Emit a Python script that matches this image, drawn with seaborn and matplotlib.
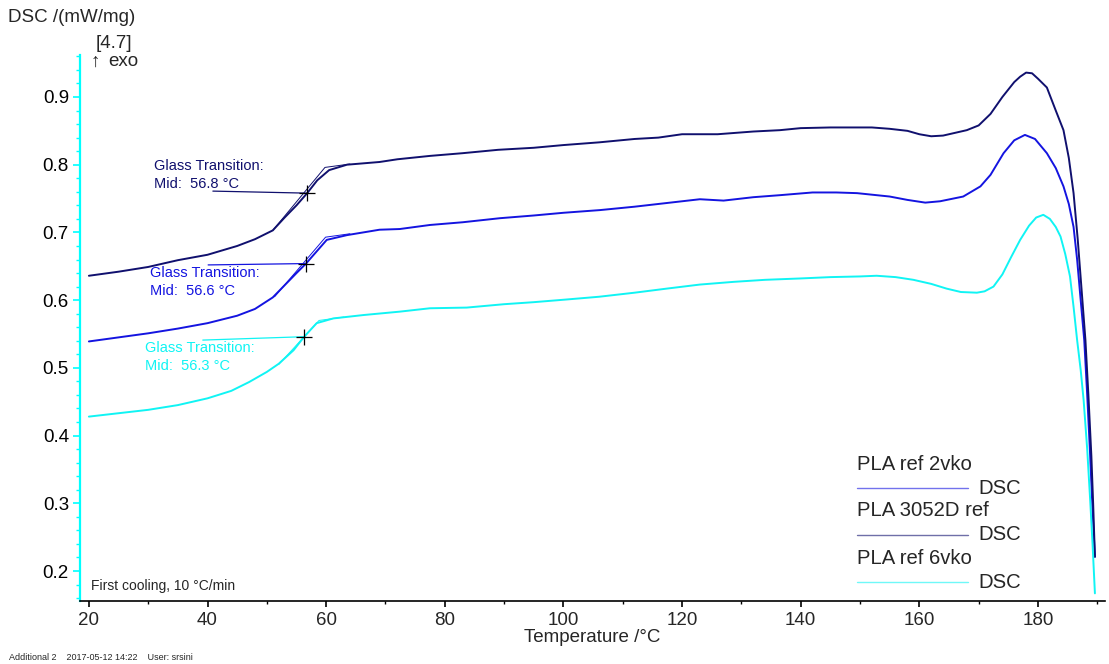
import numpy as np
import pandas as pd
import matplotlib
matplotlib.use("Agg")
import matplotlib.pyplot as plt
import seaborn as sns
from matplotlib.ticker import MultipleLocator

# ---- measured DSC curves (first cooling, 10 °C/min) ----
t_3052d = [20, 25, 30, 35, 40, 45, 48, 51, 53, 55, 56.8, 58.5, 60.5, 63.5, 69, 72, 77.5,
           83, 89, 95, 100, 106, 112, 116, 120, 126, 132, 136.5, 140, 145, 149, 152, 155,
           158, 160, 162, 164, 166, 168, 170, 172, 174, 176, 177, 178, 179, 180, 181.5,
           183, 184.3, 185.2, 186, 186.7, 187.4, 188, 188.5, 189, 189.3, 189.6]
dsc_3052d = [0.636, 0.642, 0.649, 0.659, 0.667, 0.680, 0.690, 0.703, 0.722, 0.740, 0.758,
             0.777, 0.792, 0.800, 0.804, 0.808, 0.813, 0.817, 0.822, 0.825, 0.829, 0.833,
             0.838, 0.840, 0.845, 0.845, 0.849, 0.851, 0.854, 0.855, 0.855, 0.855, 0.853,
             0.850, 0.845, 0.842, 0.843, 0.847, 0.851, 0.858, 0.875, 0.900, 0.922, 0.930,
             0.936, 0.935, 0.927, 0.914, 0.880, 0.851, 0.810, 0.758, 0.690, 0.610, 0.541,
             0.460, 0.370, 0.300, 0.221]

t_2vko = [20, 25, 30, 35, 40, 45, 48, 51, 53, 55, 56.6, 58.5, 60.1, 63.5, 69, 72.4, 77.5,
          83, 89.3, 95, 100, 106.2, 112, 117, 123, 127, 132, 136.5, 142, 146, 149.5, 155,
          158, 161, 163.5, 167.4, 170.3, 172, 174.2, 176, 177.8, 179.5, 181.5, 183, 184.3,
          185.2, 186, 186.6, 187.1, 187.8, 188.3, 188.8, 189.2, 189.6]
dsc_2vko = [0.539, 0.545, 0.551, 0.558, 0.566, 0.577, 0.587, 0.604, 0.622, 0.640, 0.654,
            0.673, 0.689, 0.696, 0.704, 0.705, 0.711, 0.715, 0.721, 0.725, 0.729, 0.733,
            0.738, 0.743, 0.749, 0.747, 0.752, 0.755, 0.759, 0.759, 0.758, 0.753, 0.748,
            0.744, 0.746, 0.753, 0.768, 0.785, 0.817, 0.836, 0.844, 0.838, 0.817, 0.795,
            0.768, 0.742, 0.708, 0.660, 0.610, 0.541, 0.460, 0.370, 0.290, 0.221]

t_6vko = [20, 25, 30, 35, 40, 44, 47, 50, 52, 54.5, 56.3, 58.4, 61.2, 66.3, 72.4, 77.5,
          83.7, 90, 95, 100.6, 106, 112, 117.4, 123, 128.7, 134, 139.9, 145, 150, 152.8,
          156, 159, 162, 164.6, 167, 169.7, 171, 172.5, 174, 175.5, 177, 178.5, 179.7,
          180.9, 182, 183, 183.8, 184.6, 185.4, 186, 186.6, 187.2, 187.7, 188.3, 188.8,
          189.2, 189.6]
dsc_6vko = [0.428, 0.433, 0.438, 0.445, 0.455, 0.466, 0.479, 0.494, 0.506, 0.526, 0.546,
            0.566, 0.573, 0.578, 0.583, 0.588, 0.589, 0.594, 0.597, 0.601, 0.605, 0.611,
            0.617, 0.623, 0.627, 0.630, 0.632, 0.634, 0.635, 0.636, 0.634, 0.630, 0.624,
            0.617, 0.612, 0.611, 0.613, 0.620, 0.638, 0.664, 0.689, 0.710, 0.722, 0.726,
            0.720, 0.708, 0.694, 0.668, 0.635, 0.590, 0.541, 0.497, 0.452, 0.380, 0.305,
            0.240, 0.167]

samples = ["PLA ref 2vko", "PLA 3052D ref", "PLA ref 6vko"]
colors = {"PLA ref 2vko": "#1414e0", "PLA 3052D ref": "#10106e", "PLA ref 6vko": "#10f4f4"}

# glass transition midpoints (°C, mW/mg)
tg_mid = {"PLA 3052D ref": (56.8, 0.758), "PLA ref 2vko": (56.6, 0.654), "PLA ref 6vko": (56.3, 0.546)}
# tangent construction around the step
tg_tangent = {
    "PLA 3052D ref": ([51.0, 59.8, 64.0], [0.703, 0.796, 0.801]),
    "PLA ref 2vko": ([51.3, 59.9, 64.0], [0.605, 0.693, 0.698]),
    "PLA ref 6vko": ([52.0, 58.8, 63.0], [0.505, 0.570, 0.575]),
}
# label anchor (left x, first line y) and leader start
tg_label = {
    "PLA 3052D ref": (31.0, 0.798, (40.9, 0.761)),
    "PLA ref 2vko": (30.3, 0.640, (40.1, 0.652)),
    "PLA ref 6vko": (29.5, 0.529, (39.2, 0.541)),
}

df = pd.concat([
    pd.DataFrame({"Temperature": t_2vko, "DSC": dsc_2vko, "Sample": "PLA ref 2vko"}),
    pd.DataFrame({"Temperature": t_3052d, "DSC": dsc_3052d, "Sample": "PLA 3052D ref"}),
    pd.DataFrame({"Temperature": t_6vko, "DSC": dsc_6vko, "Sample": "PLA ref 6vko"}),
], ignore_index=True)

sns.set_theme(style="white")
plt.rcParams["font.family"] = ["Liberation Sans", "DejaVu Sans"]

fig = plt.figure(figsize=(11.09, 6.64), dpi=100)
ax = fig.add_axes([80 / 1109, 1 - 601 / 664, (1105 - 80) / 1109, (601 - 55) / 664])

sns.lineplot(data=df, x="Temperature", y="DSC", hue="Sample", palette=colors,
             estimator=None, sort=False, linewidth=1.4, legend=False, ax=ax)

for s in samples:
    c = colors[s]
    tx, ty = tg_tangent[s]
    ax.plot(tx, ty, color=c, lw=0.7)
    mx, my = tg_mid[s]
    lx, ly, (sx, sy) = tg_label[s]
    ax.plot([sx, mx], [sy, my], color=c, lw=0.9)
    ax.plot([mx], [my], marker="+", color="black", ms=11, mew=0.9)
    ax.text(lx, ly, "Glass Transition:", color=c, fontsize=10.5, va="center", ha="left")
    ax.text(lx, ly - 0.026, f"Mid:  {mx:.1f} °C", color=c, fontsize=10.5, va="center", ha="left")

ax.set_xlim(18.5, 191.3)
ax.set_ylim(0.1557, 0.962)
ax.xaxis.set_major_locator(MultipleLocator(20))
ax.xaxis.set_minor_locator(MultipleLocator(10))
ax.yaxis.set_major_locator(MultipleLocator(0.1))
ax.yaxis.set_minor_locator(MultipleLocator(0.02))
ax.set_xticks(np.arange(20, 181, 20))
ax.set_xticklabels([str(v) for v in range(20, 181, 20)])

for side in ("top", "right"):
    ax.spines[side].set_visible(False)
ax.spines["left"].set_color("#00ffff")
ax.spines["left"].set_linewidth(1.6)
ax.spines["bottom"].set_color("black")
ax.spines["bottom"].set_linewidth(1.2)

ax.tick_params(axis="y", which="major", direction="out", length=5, width=1.2,
               color="#00ffff", labelsize=13.5, labelcolor="black", left=True, pad=3)
ax.tick_params(axis="y", which="minor", direction="out", length=3, width=1.0,
               color="#00ffff", left=True)
ax.tick_params(axis="x", which="major", direction="out", length=4, width=1.2,
               color="black", labelsize=13.5, bottom=True, pad=4)
ax.tick_params(axis="x", which="minor", direction="out", length=2, width=1.0,
               color="black", bottom=True)
ax.set_xlabel("Temperature /°C", fontsize=13.5, labelpad=0)
ax.set_ylabel("")
ax.grid(False)

# axis title and exo direction
fig.text(8 / 1109, 1 - 18 / 664, "DSC /(mW/mg)", fontsize=13.5, va="center", ha="left")
fig.text(96 / 1109, 1 - 44 / 664, "[4.7]", fontsize=13.5, va="center", ha="left")
fig.text(91 / 1109, 1 - 62 / 664, "↑", fontsize=13.5, va="center", ha="left",
         family=["Liberation Sans", "DejaVu Sans"])
fig.text(108 / 1109, 1 - 62 / 664, "exo", fontsize=13.5, va="center", ha="left")

ax.text(0.011, 0.028, "First cooling, 10 °C/min", transform=ax.transAxes,
        fontsize=10, va="center", ha="left")
fig.text(9 / 1109, 1 - 657 / 664, "Additional 2    2017-05-12 14:22    User: srsini",
         fontsize=6.5, va="center", ha="left")

# legend: sample name, then line sample with signal name
leg_x0, leg_x1 = (857 - 80) / 1025, (968 - 80) / 1025
leg_rows = [464, 511, 558]
for s, yrow in zip(samples, leg_rows):
    ytxt = (601 - yrow) / 546
    yline = (601 - (yrow + 24)) / 546
    ax.text(leg_x0, ytxt, s, transform=ax.transAxes, fontsize=14.6, va="center", ha="left")
    ax.plot([leg_x0, leg_x1], [yline, yline], transform=ax.transAxes,
            color=colors[s], lw=1.0, alpha=0.6)
    ax.text(leg_x1 + 10 / 1025, yline, "DSC", transform=ax.transAxes, fontsize=14.6,
            va="center", ha="left")

fig.savefig("out.png", dpi=100)
